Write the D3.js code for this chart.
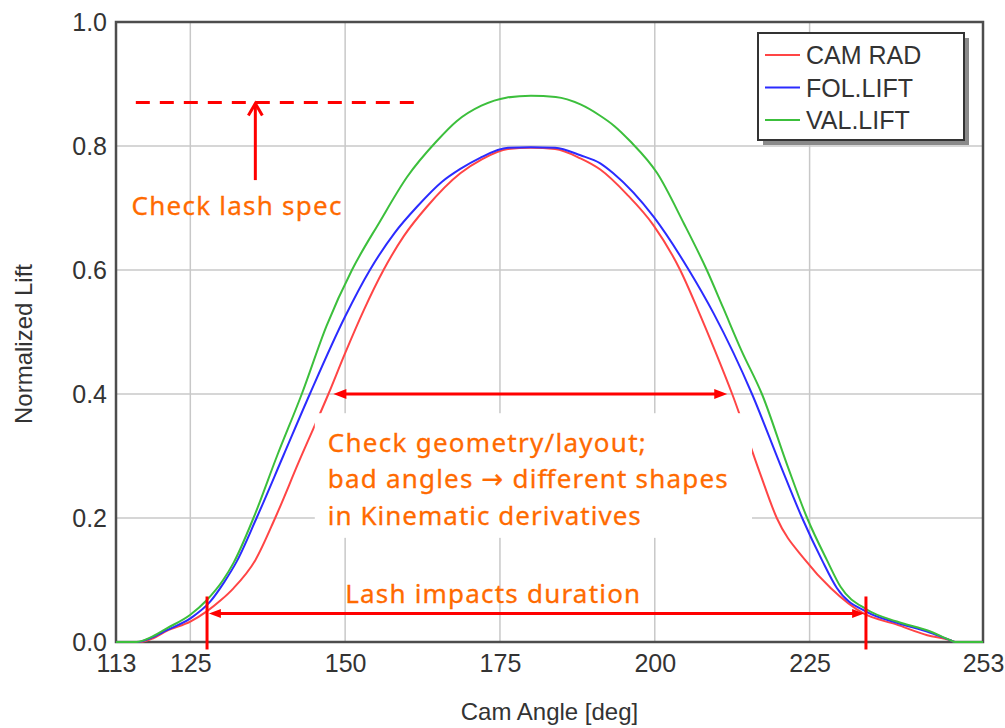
<!DOCTYPE html>
<html>
<head>
<meta charset="utf-8">
<script src="https://cdn.jsdelivr.net/npm/d3@7"></script>
<style>
  body{margin:0;background:#fff;}
  svg{display:block;}
  .axis text{font-family:"Liberation Sans",Arial,sans-serif;font-size:25px;fill:#333;}
  .axis-label{font-family:"Liberation Sans",Arial,sans-serif;font-size:24px;fill:#333;}
  .legend text{font-family:"Liberation Sans",Arial,sans-serif;font-size:25px;fill:#333;}
  .note{font-family:"Noto Sans",sans-serif;font-size:26px;fill:#ff6a00;stroke:#ff6a00;stroke-width:0.3px;}
  .note .arrow{font-family:"DejaVu Sans",sans-serif;font-size:26px;}
</style>
</head>
<body>
<div id="vis-container"></div>
<script>

//data: [cam angle (deg), normalized lift]
let camRad = [[113,0],[116.9,0],[119,0.006],[121.2,0.018],[125,0.033],[127.6,0.049],[130,0.068],[132,0.087],
  [135.5,0.132],[138.7,0.2],[142.5,0.29],[147.3,0.4],[150,0.466],[153,0.535],[156.2,0.6],
  [159.5,0.655],[163.2,0.702],[168.6,0.756],[172,0.778],[176.3,0.795],[180,0.797],[183.9,0.795],[188,0.78],
  [191.2,0.762],[195.5,0.722],[199.8,0.672],[204.1,0.6],[207,0.535],[209.8,0.468],[212.5,0.4],[217,0.272],
  [219.7,0.2],[224.3,0.132],[228.4,0.087],[233.7,0.046],[239.1,0.028],[244,0.011],[247.7,0.003],[248.5,0],[253,0]];

let folLift = [[113,0],[116.5,0],[118.5,0.006],[121.2,0.019],[125,0.038],[128.2,0.065],[130.5,0.097],[132.5,0.13],
  [135.7,0.2],[140,0.3],[144.3,0.4],[150,0.525],[154,0.6],[158,0.66],[161.6,0.702],[165.6,0.742],
  [168.6,0.763],[171.8,0.781],[176.3,0.797],[180,0.798],[183.9,0.797],[188,0.785],[191.2,0.772],[193.3,0.756],
  [199.8,0.686],[205.5,0.6],[209.5,0.53],[215.7,0.4],[220.3,0.285],[223.8,0.2],[227,0.132],[229.4,0.087],
  [234.3,0.048],[239.1,0.031],[244.5,0.015],[247.7,0.003],[248.5,0],[253,0]];

let valLift = [[113,0],[116.3,0],[118.5,0.007],[121.2,0.022],[125,0.044],[127.6,0.067],[130.3,0.1],[132,0.128],
  [135.2,0.2],[139,0.3],[143,0.4],[147,0.51],[151.1,0.6],[155.6,0.678],[160,0.75],[164.8,0.808],
  [168,0.84],[172,0.865],[176,0.878],[180,0.881],[184,0.879],[188,0.867],[191,0.85],[193.5,0.832],[196,0.808],
  [200.4,0.756],[204.7,0.675],[208.4,0.6],[211,0.54],[214,0.47],[217.3,0.4],[221.4,0.285],[224.6,0.2],
  [227.8,0.132],[230,0.089],[234.3,0.052],[239.1,0.033],[244.5,0.017],[247.7,0.003],[248.5,0],[253,0]];

let seriesNames = ["CAM RAD","FOL.LIFT","VAL.LIFT"];
let seriesColors = ["#ff4545","#2b2bff","#3cbf3c"];

let xTicks = [113,125,150,175,200,225,253];
let yTicks = [0,0.2,0.4,0.6,0.8,1.0];
let xGrid = [125,150,175,200,225];
let yGrid = [0.2,0.4,0.6,0.8];

//annotations, in angle / lift units
let lashSpecLift = 0.87;
let lashSpecSpan = [116.2,161.3];
let lashSpecArrow = {angle:135.5, from:0.745};
let geometrySpan = [148.1,211.7];
let geometryLift = 0.4;
let lashPoints = [127.7,234.1];
let lashArrowLift = 0.046;
let noteBox = {a0:145.1, a1:215.7, v0:0.168, v1:0.369};
let notes = [
  {parts:["Check lash spec"], angle:115.5, lift:0.689, len:210},
  {parts:["Check geometry/layout;"], angle:147.2, lift:0.307, len:318},
  {parts:["bad angles ", "\u2192", " different shapes"], angle:147.2, lift:0.248, len:400},
  {parts:["in Kinematic derivatives"], angle:147.2, lift:0.189, len:313},
  {parts:["Lash impacts duration"], angle:150.0, lift:0.063, len:295}
];

//D3 margin convention
let margin = {top:22, right:22, bottom:86, left:116};
let width = 1005 - margin.left - margin.right;
let height = 728 - margin.top - margin.bottom;

let svg = d3.select("#vis-container")
  .append("svg")
  .attr("width", width + margin.left + margin.right)
  .attr("height", height + margin.top + margin.bottom);

let g = svg.append("g")
  .attr("transform", `translate(${margin.left}, ${margin.top})`);

//scales
let x = d3.scaleLinear().domain([113,253]).range([0,width]);
let y = d3.scaleLinear().domain([0,1]).range([height,0]);

//grid
g.selectAll(".vgrid").data(xGrid).enter().append("line")
  .attr("x1", d=>x(d)).attr("x2", d=>x(d))
  .attr("y1", 0).attr("y2", height)
  .attr("stroke", "#c8c8c8").attr("stroke-width", 1.5);

g.selectAll(".hgrid").data(yGrid).enter().append("line")
  .attr("x1", 0).attr("x2", width)
  .attr("y1", d=>y(d)).attr("y2", d=>y(d))
  .attr("stroke", "#c8c8c8").attr("stroke-width", 1.5);

//frame
g.append("rect")
  .attr("width", width).attr("height", height)
  .attr("fill", "none").attr("stroke", "#4d4d4d").attr("stroke-width", 2.5);

//axes
let xAxis = d3.axisBottom(x).tickValues(xTicks).tickSize(0).tickPadding(12).tickFormat(d3.format("d"));
let yAxis = d3.axisLeft(y).tickValues(yTicks).tickSize(0).tickPadding(9).tickFormat(d3.format(".1f"));

g.append("g").attr("class", "x axis")
  .attr("transform", `translate(0,${height})`)
  .call(xAxis)
  .select(".domain").remove();

g.append("g").attr("class", "y axis")
  .call(yAxis)
  .select(".domain").remove();

g.append("text")
  .attr("class", "axis-label")
  .attr("x", width/2)
  .attr("y", height+78)
  .attr("text-anchor", "middle")
  .text("Cam Angle [deg]");

g.append("text")
  .attr("class", "axis-label")
  .attr("x", -(height/2) - 12)
  .attr("y", -84)
  .attr("text-anchor", "middle")
  .attr("transform", "rotate(-90)")
  .text("Normalized Lift");

//curves
let line = d3.line()
  .x(d=>x(d[0]))
  .y(d=>y(d[1]))
  .curve(d3.curveMonotoneX);

let series = [camRad, folLift, valLift];
g.selectAll(".curve").data(series).enter().append("path")
  .attr("class", "curve")
  .attr("d", d=>line(d))
  .attr("fill", "none")
  .attr("stroke", (d,i)=>seriesColors[i])
  .attr("stroke-width", 2);

//white box behind the geometry note
g.append("rect")
  .attr("x", x(noteBox.a0)).attr("y", y(noteBox.v1))
  .attr("width", x(noteBox.a1) - x(noteBox.a0))
  .attr("height", y(noteBox.v0) - y(noteBox.v1))
  .attr("fill", "#fff");

//red annotation marks
let red = "#ff0000";

function headPath(tipX, tipY, dir, len, half){
  return `M${tipX},${tipY}L${tipX - dir*len},${tipY - half}L${tipX - dir*len},${tipY + half}Z`;
}

function doubleArrow(a0, a1, lift, len, half){
  let yy = y(lift);
  g.append("line")
    .attr("x1", x(a0) + len - 1).attr("x2", x(a1) - len + 1)
    .attr("y1", yy).attr("y2", yy)
    .attr("stroke", red).attr("stroke-width", 3);
  g.append("path").attr("d", headPath(x(a0), yy, -1, len, half)).attr("fill", red);
  g.append("path").attr("d", headPath(x(a1), yy, 1, len, half)).attr("fill", red);
}

//lash spec dashed line + arrow
g.append("line")
  .attr("x1", x(lashSpecSpan[0])).attr("x2", x(lashSpecSpan[1]))
  .attr("y1", y(lashSpecLift)).attr("y2", y(lashSpecLift))
  .attr("stroke", red).attr("stroke-width", 3)
  .attr("stroke-dasharray", "14,10");

let tipX = x(lashSpecArrow.angle), tipY = y(lashSpecLift);
g.append("line")
  .attr("x1", tipX).attr("x2", tipX)
  .attr("y1", y(lashSpecArrow.from)).attr("y2", tipY + 1)
  .attr("stroke", red).attr("stroke-width", 3);
g.append("path")
  .attr("d", `M${tipX-7},${tipY+13}L${tipX},${tipY+1}L${tipX+7},${tipY+13}`)
  .attr("fill", "none").attr("stroke", red).attr("stroke-width", 3);

//geometry arrow
doubleArrow(geometrySpan[0], geometrySpan[1], geometryLift, 13, 5);

//lash duration arrow and marks
doubleArrow(lashPoints[0] + 0.3, lashPoints[1] - 0.3, lashArrowLift, 12, 4.5);
g.selectAll(".lashmark").data(lashPoints).enter().append("line")
  .attr("x1", d=>x(d)).attr("x2", d=>x(d))
  .attr("y1", y(lashArrowLift) - 17).attr("y2", y(lashArrowLift) + 36)
  .attr("stroke", red).attr("stroke-width", 3);

//notes
let noteText = g.selectAll(".note").data(notes).enter().append("text")
  .attr("class", "note")
  .attr("x", d=>x(d.angle))
  .attr("y", d=>y(d.lift))
  .attr("textLength", d=>d.len)
  .attr("lengthAdjust", "spacing");

noteText.selectAll("tspan").data(d=>d.parts).enter().append("tspan")
  .attr("class", d=>d === "\u2192" ? "arrow" : null)
  .text(d=>d);

//legend
let gLegend = svg.append("g")
  .attr("class", "legend")
  .attr("transform", "translate(758,33)");

gLegend.append("rect")
  .attr("x", 5).attr("y", 5).attr("width", 206).attr("height", 107)
  .attr("fill", "#8a8a8a");
gLegend.append("rect")
  .attr("width", 206).attr("height", 107)
  .attr("fill", "#fff").attr("stroke", "#333").attr("stroke-width", 2);

let items = gLegend.selectAll(".item").data(seriesNames).enter().append("g")
  .attr("class", "item")
  .attr("transform", (d,i)=>`translate(0,${22 + i*32.5})`);

items.append("line")
  .attr("x1", 7).attr("x2", 42)
  .attr("stroke", (d,i)=>seriesColors[i]).attr("stroke-width", 2);

items.append("text")
  .attr("x", 48)
  .attr("dy", "0.36em")
  .text(d=>d);

</script>
</body>
</html>
